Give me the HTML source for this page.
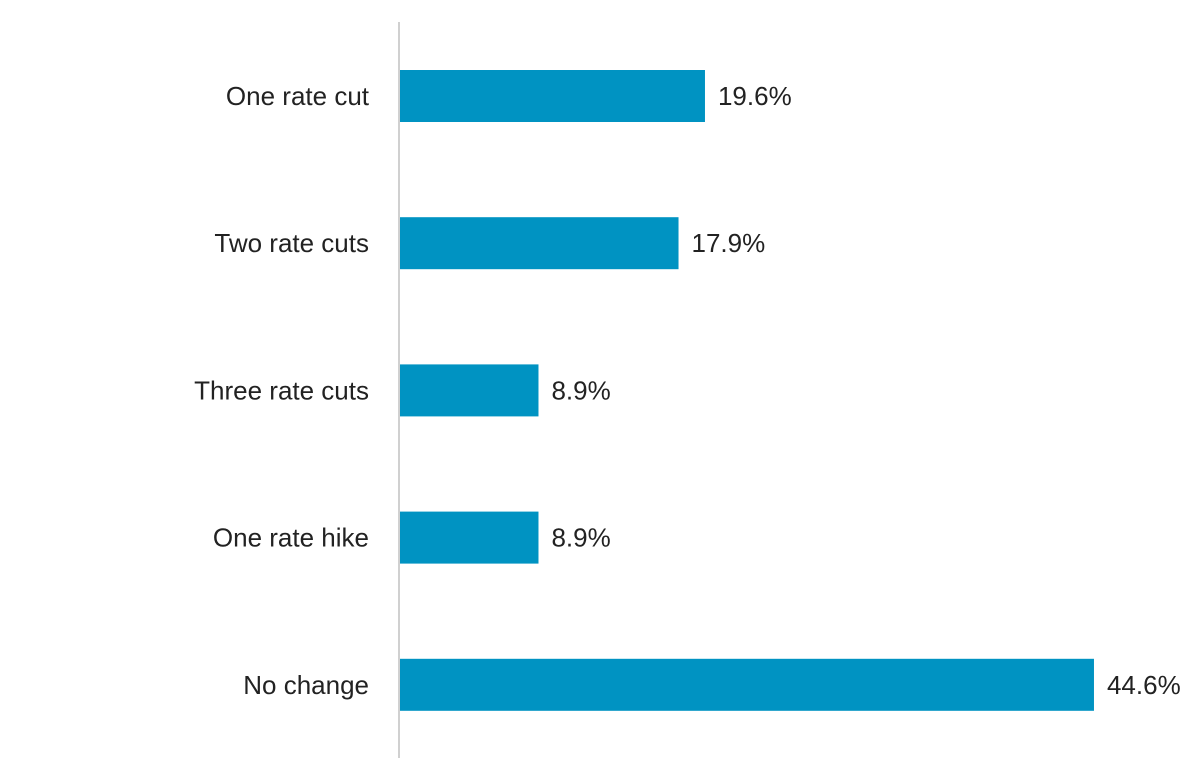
<!DOCTYPE html>
<html><head><meta charset="utf-8"><style>
body{margin:0;background:#fff;}
svg{display:block;font-family:"Liberation Sans",sans-serif;}
</style></head><body>
<svg id="chart" width="1202" height="781">
<line x1="399" y1="22" x2="399" y2="758" stroke="#d0d0d0" stroke-width="2"/>
<g id="bars"></g>
</svg>
<script>
const categories=["One rate cut","Two rate cuts","Three rate cuts","One rate hike","No change"];
const values=[19.6,17.9,8.9,8.9,44.6];
const valueLabels=["19.6%","17.9%","8.9%","8.9%","44.6%"];
const x0=400, pxPer=15.56, top0=70, step=147.2, bh=52;
const xScale=v=>x0+v*pxPer;
const yScale=i=>top0+i*step;
const ns="http://www.w3.org/2000/svg";
const g=document.getElementById('bars');
categories.forEach((c,i)=>{
  const y=yScale(i);
  const r=document.createElementNS(ns,'rect');
  r.setAttribute('x',x0);r.setAttribute('y',y);
  r.setAttribute('width',xScale(values[i])-x0);r.setAttribute('height',bh);
  r.setAttribute('fill','#0093c2');
  
  
  g.appendChild(r);
  const t=document.createElementNS(ns,'text');
  t.setAttribute('x',369);t.setAttribute('y',y+bh/2+9);
  t.setAttribute('text-anchor','end');t.setAttribute('font-size','26');t.setAttribute('fill','#222');
  t.textContent=c;
  
  
  g.appendChild(t);
  const v=document.createElementNS(ns,'text');
  v.setAttribute('x',xScale(values[i])+13);v.setAttribute('y',y+bh/2+9);
  v.setAttribute('font-size','26');v.setAttribute('fill','#222');
  v.textContent=valueLabels[i];
  
  
  g.appendChild(v);
});
</script>
</body></html>
